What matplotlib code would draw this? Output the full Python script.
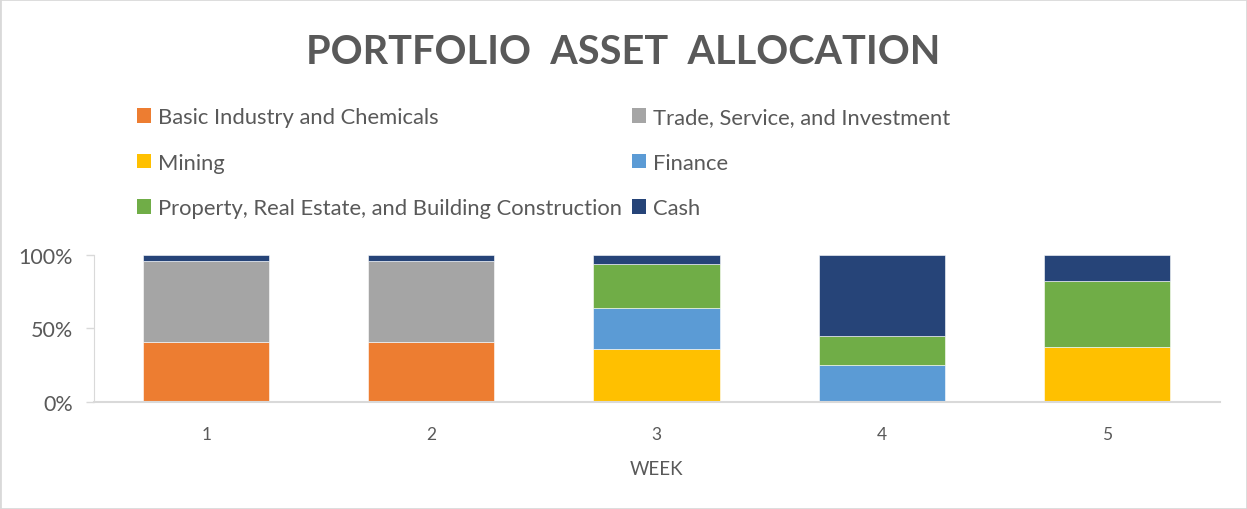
import numpy as np
import matplotlib.pyplot as plt
from matplotlib.patches import Patch, Rectangle
from matplotlib.ticker import PercentFormatter

plt.rcParams['font.family'] = ['Lato', 'DejaVu Sans']

# data (share of portfolio, %)
weeks = ['1', '2', '3', '4', '5']
basic_industry = [41, 41, 0, 0, 0]
trade_service = [55, 55, 0, 0, 0]
mining = [0, 0, 36, 0, 37.5]
finance = [0, 0, 28, 25, 0]
property_re = [0, 0, 30, 20, 45]
cash = [4, 4, 6, 55, 17.5]

series = [
    ('Basic Industry and Chemicals', basic_industry, '#ED7D31'),
    ('Trade, Service, and Investment', trade_service, '#A5A5A5'),
    ('Mining', mining, '#FFC000'),
    ('Finance', finance, '#5B9BD5'),
    ('Property, Real Estate, and Building Construction', property_re, '#70AD47'),
    ('Cash', cash, '#264478'),
]

txt = '#595959'
axis_col = '#D9D9D9'

fig = plt.figure(figsize=(12.47, 5.1), dpi=100)
ax = fig.add_axes([0.075, 0.210, 0.903, 0.288])

x = np.arange(1, len(weeks) + 1)
bottom = np.zeros(len(weeks))
handles = {}
for name, vals, col in series:
    vals = np.array(vals, dtype=float)
    ax.bar(x, vals, 0.56, bottom=bottom, color=col, edgecolor='white', linewidth=0.4)
    bottom += vals
    handles[name] = Patch(facecolor=col, edgecolor='none', label=name)

ax.set_xlim(0.5, 5.5)
ax.set_ylim(0, 100)
ax.set_yticks([0, 50, 100])
ax.yaxis.set_major_formatter(PercentFormatter(decimals=0))
ax.set_xticks(x)
ax.set_xticklabels(weeks)
for s in ['top', 'right']:
    ax.spines[s].set_visible(False)
ax.spines['left'].set_color(axis_col)
ax.spines['bottom'].set_color(axis_col)
ax.spines['bottom'].set_linewidth(1.5)
ax.tick_params(axis='y', colors=axis_col, labelcolor=txt, labelsize=15.5, length=6, width=1, pad=9)
ax.tick_params(axis='x', length=0, labelcolor=txt, labelsize=12.5, pad=17)
ax.set_xlabel('WEEK', color=txt, fontsize=13.5, labelpad=13)

fig.text(0.5, 0.898, 'PORTFOLIO  ASSET  ALLOCATION', ha='center', va='center',
         fontsize=28.5, fontweight='bold', color=txt)

order = ['Basic Industry and Chemicals', 'Mining',
         'Property, Real Estate, and Building Construction',
         'Trade, Service, and Investment', 'Finance', 'Cash']
leg = fig.legend([handles[n] for n in order], order, ncol=2, loc='upper left',
                 bbox_to_anchor=(0.110, 0.788), frameon=False, fontsize=15.8,
                 handlelength=0.65, handleheight=0.65, handletextpad=0.3,
                 columnspacing=0.45, labelspacing=1.16, borderaxespad=0, borderpad=0)
for t in leg.get_texts():
    t.set_color(txt)

fig.patches.append(Rectangle((0, 0), 1, 1, transform=fig.transFigure,
                             fill=False, edgecolor=axis_col, linewidth=2))

fig.savefig('out.png', dpi=100)
